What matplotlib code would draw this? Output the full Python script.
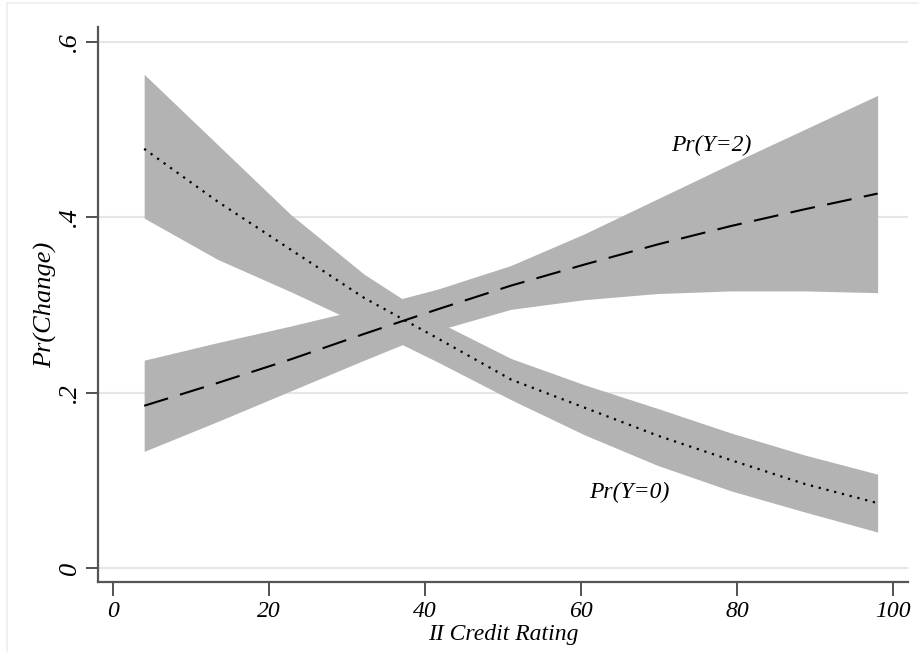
import numpy as np
import matplotlib
matplotlib.use("Agg")
import matplotlib.pyplot as plt
from matplotlib.lines import Line2D

# evaluation points of the rating (margins grid)
rating = [4, 13.4, 22.8, 32.2, 41.6, 51, 60.4, 69.8, 79.2, 88.6, 98]

# Pr(Y=0) with 95% band
p0 = [0.478, 0.418, 0.363, 0.308, 0.262, 0.215, 0.183, 0.151, 0.123, 0.096, 0.074]
p0_hi = [0.563, 0.483, 0.403, 0.335, 0.281, 0.239, 0.209, 0.182, 0.154, 0.129, 0.107]
p0_lo = [0.399, 0.352, 0.315, 0.276, 0.235, 0.192, 0.152, 0.117, 0.088, 0.064, 0.041]

# Pr(Y=2) with 95% band
p2 = [0.185, 0.211, 0.238, 0.267, 0.295, 0.322, 0.346, 0.369, 0.390, 0.409, 0.427]
p2_hi = [0.237, 0.257, 0.276, 0.296, 0.318, 0.345, 0.381, 0.421, 0.461, 0.500, 0.539]
p2_lo = [0.133, 0.167, 0.202, 0.237, 0.271, 0.295, 0.306, 0.313, 0.316, 0.316, 0.314]

xticks = [0, 20, 40, 60, 80, 100]
yticks = [0, 0.2, 0.4, 0.6]
ytick_labels = ["0", ".2", ".4", ".6"]

plt.rcParams["font.family"] = ["Liberation Serif", "DejaVu Serif"]

fig = plt.figure(figsize=(9.2, 6.71), dpi=100)
ax = fig.add_axes([0.1065, 0.1326, 0.8805, 0.8272])

band = "#b3b3b3"
ax.fill_between(rating, p0_lo, p0_hi, color=band, linewidth=0, zorder=2)
ax.fill_between(rating, p2_lo, p2_hi, color=band, linewidth=0, zorder=2)

ax.plot(rating, p0, color="black", linestyle=(0, (1, 2.6)), linewidth=1.6, zorder=3)
ax.plot(rating, p2, color="black", linestyle=(0, (12, 6)), linewidth=1.5, zorder=3)

ax.text(76.7, 0.482, "Pr(Y=2)", fontsize=17, style="italic", ha="center", va="center")
ax.text(66.2, 0.086, "Pr(Y=0)", fontsize=17, style="italic", ha="center", va="center")

ax.set_xlim(-1.92, 101.9)
ax.set_ylim(-0.016, 0.617)

for y in yticks:
    ax.axhline(y, color="#e6e6e6", linewidth=1.5, zorder=1)

ax.set_xticks(xticks)
ax.set_xticklabels([str(v) for v in xticks], fontsize=17, style="italic")
ax.set_yticks(yticks)
ax.set_yticklabels(ytick_labels, fontsize=19, style="italic", rotation=90, va="center")

ax.tick_params(axis="x", length=10, width=1.2, color="#333333", pad=4)
ax.tick_params(axis="y", length=9, width=1.2, color="#333333", pad=3)

for side in ["top", "right"]:
    ax.spines[side].set_visible(False)
for side in ["left", "bottom"]:
    ax.spines[side].set_color("#555555")
    ax.spines[side].set_linewidth(1.6)

ax.set_xlabel("II Credit Rating", fontsize=17, style="italic", labelpad=1)
ax.set_ylabel("Pr(Change)", fontsize=19, style="italic")
ax.yaxis.set_label_coords(-0.051, 0.5)

# faint page frame
fig.add_artist(Line2D([7 / 920, 7 / 920], [0.03, 1 - 3 / 671], color="#eeeeee", linewidth=1.2))
fig.add_artist(Line2D([7 / 920, 1.0], [1 - 3 / 671, 1 - 3 / 671], color="#eeeeee", linewidth=1.2))

fig.savefig("out.png", dpi=100)
